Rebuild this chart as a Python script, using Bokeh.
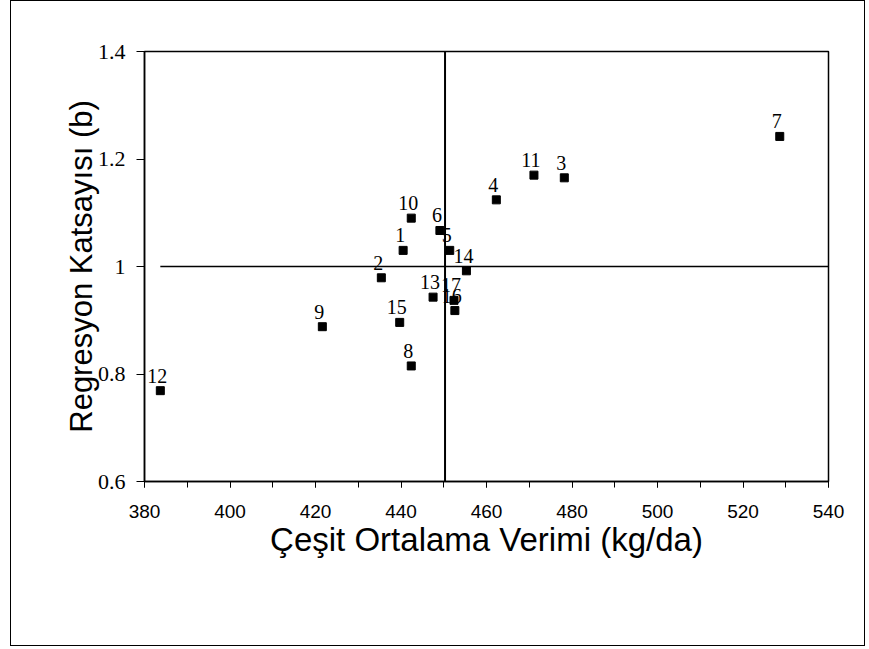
from bokeh.plotting import figure
from bokeh.models import FixedTicker, Span, ColumnDataSource, LabelSet
from bokeh.embed import file_html
from bokeh.resources import INLINE

# Data
cultivars = ["1", "2", "3", "4", "5", "6", "7", "8", "9", "10",
             "11", "12", "13", "14", "15", "16", "17"]
yield_mean = [440.5, 435.4, 478.2, 462.3, 451.4, 449.1, 528.6, 442.4, 421.6, 442.4,
              471.1, 383.7, 447.5, 455.3, 439.7, 452.6, 452.4]
reg_coef = [1.030, 0.979, 1.165, 1.124, 1.030, 1.067, 1.242, 0.815, 0.888, 1.090,
            1.170, 0.769, 0.943, 0.992, 0.896, 0.918, 0.937]
overall_mean_yield = 450.3
reference_b = 1.0

x_ticks = [380, 400, 420, 440, 460, 480, 500, 520, 540]
x_minor_ticks = list(range(380, 541, 10))
y_ticks = [0.6, 0.8, 1.0, 1.2, 1.4]
y_tick_labels = ["0.6", "0.8", "1", "1.2", "1.4"]

p = figure(width=855, height=646, output_backend="svg", toolbar_location=None,
           x_range=(380, 540), y_range=(0.6, 1.4))
p.min_border_left = 133
p.min_border_right = 38
p.min_border_top = 50
p.min_border_bottom = 166
p.styles = {"border": "1px solid black", "margin-left": "10px"}

p.xgrid.visible = False
p.ygrid.visible = False
p.outline_line_color = "black"
p.outline_line_width = 1.5

# x axis
xa = p.xaxis[0]
xa.ticker = FixedTicker(ticks=x_ticks, minor_ticks=x_minor_ticks)
xa.axis_label = "Çeşit Ortalama Verimi (kg/da)"
xa.axis_label_text_font = "Liberation Sans"
xa.axis_label_text_font_style = "normal"
xa.axis_label_text_font_size = "33px"
xa.axis_label_text_color = "black"
xa.axis_label_standoff = 0
xa.major_label_text_font = "Liberation Sans"
xa.major_label_text_font_size = "19px"
xa.major_label_text_color = "black"
xa.major_label_standoff = 17
xa.major_tick_in = 0
xa.major_tick_out = 6
xa.minor_tick_in = 0
xa.minor_tick_out = 6
xa.axis_line_width = 1.5
xa.axis_line_color = "black"

# y axis
ya = p.yaxis[0]
ya.ticker = FixedTicker(ticks=y_ticks, minor_ticks=[])
ya.major_label_overrides = {t: l for t, l in zip(y_ticks, y_tick_labels)}
ya.axis_label = "Regresyon Katsayısı (b)"
ya.axis_label_text_font = "Liberation Sans"
ya.axis_label_text_font_style = "normal"
ya.axis_label_text_font_size = "31px"
ya.axis_label_text_color = "black"
ya.axis_label_standoff = -4
ya.major_label_text_font = "Liberation Serif"
ya.major_label_text_font_size = "22px"
ya.major_label_text_color = "black"
ya.major_label_standoff = 11
ya.major_tick_in = 0
ya.major_tick_out = 8
ya.minor_tick_in = 0
ya.minor_tick_out = 0
ya.axis_line_width = 1.5
ya.axis_line_color = "black"

# reference lines
p.add_layout(Span(location=overall_mean_yield, dimension="height",
                  line_color="black", line_width=2))
p.segment(x0=[min(yield_mean)], y0=[reference_b], x1=[x_ticks[-1]], y1=[reference_b],
          line_color="black", line_width=1.5)

src = ColumnDataSource(dict(x=yield_mean, y=reg_coef, name=cultivars))
p.scatter("x", "y", source=src, marker="square", size=8,
          fill_color="black", line_color="black")
p.add_layout(LabelSet(x="x", y="y", text="name", source=src,
                      x_offset=-3, y_offset=15,
                      text_align="center", text_baseline="middle",
                      text_font="Liberation Serif", text_font_size="20px",
                      text_color="black"))

open("out.html", "w").write(file_html(p, INLINE))
